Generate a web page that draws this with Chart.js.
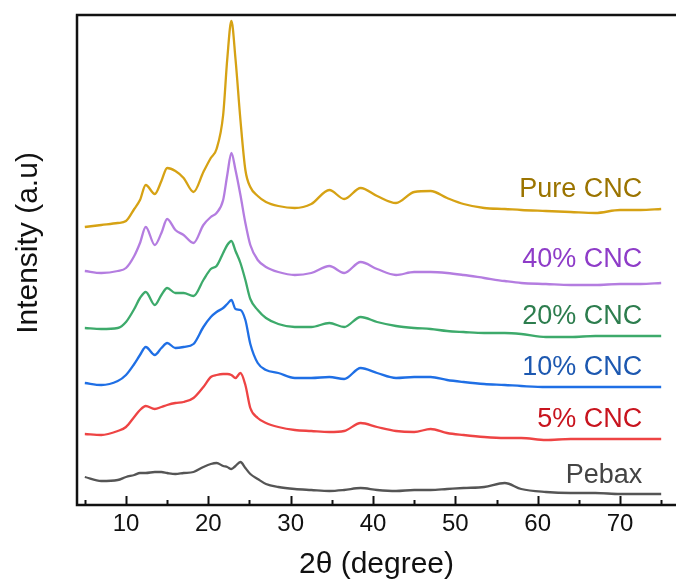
<!DOCTYPE html>
<html>
<head>
<meta charset="utf-8">
<script src="https://cdn.jsdelivr.net/npm/chart.js@4/dist/chart.umd.min.js"></script>
<style>
  html, body { margin: 0; padding: 0; background: #ffffff; overflow: hidden; }
  #wrap { width: 676px; height: 580px; }
</style>
</head>
<body>
<div id="wrap"><canvas id="c" width="676" height="580"></canvas></div>
<script>
// ---- Data (2θ in degrees, intensity in arbitrary stacked units) ----
const angles = [5, 7, 9, 10, 11, 11.7, 12.4, 13.5, 14.3, 15, 16, 17, 18.2, 19.4, 20.3, 21, 21.8, 22.3, 22.8, 23.3, 23.9, 24.5, 25.1, 26, 27, 28.5, 30.5, 32.5, 34.7, 36.5, 38.5, 40.5, 42.8, 45, 47, 49, 51, 53.5, 56, 58, 61, 64, 67, 70, 72.5, 75];

const pureCNC = [278, 280, 282, 284, 296, 305, 320, 311, 324, 337, 334, 327, 313, 333, 347, 356, 390, 446, 484, 446, 385, 335, 318, 309, 303, 299, 297, 301, 315, 306, 317, 309, 302, 313, 314, 307, 301, 297, 296, 295, 294, 293, 292, 295, 295, 296];
const cnc40 = [234, 232, 234, 237, 249, 262, 278, 260, 272, 286, 275, 270, 262, 280, 288, 292, 305, 330, 352, 335, 310, 282, 260, 245, 238, 233, 230, 232, 239, 232, 243, 236, 230, 233, 233, 232, 230, 227, 224, 222, 221, 220, 220, 221, 221, 222];
const cnc20 = [177, 176, 177, 183, 196, 207, 213, 200, 210, 217, 212, 212, 209, 225, 236, 239, 252, 260, 264, 254, 242, 225, 206, 195, 187, 181, 178, 178, 182, 178, 188, 183, 179, 177, 176, 174, 173, 172, 172, 171, 168, 168, 169, 169, 169, 169];
const cnc10 = [122, 120, 124, 130, 141, 150, 158, 150, 157, 162, 157, 158, 161, 178, 188, 193, 197, 201, 205, 196, 195, 185, 161, 142, 135, 132, 127, 127, 128, 126, 137, 132, 127, 128, 128, 125, 123, 121, 120, 119, 118, 118, 118, 118, 118, 118];
const cnc5 = [71, 70, 74, 78, 88, 95, 99, 96, 98, 100, 102, 103, 107, 118, 128, 130, 131, 131, 130, 127, 132, 120, 97, 87, 82, 78, 75, 74, 73, 74, 82, 78, 74, 73, 76, 72, 70, 68, 67, 67, 65, 66, 66, 66, 66, 66];
const pebax = [28, 24, 25, 28, 30, 32, 32, 33, 33, 32, 31, 32, 33, 38, 41, 42, 39, 38, 36, 39, 43, 37, 31, 26, 21, 18, 16, 15, 14, 15, 17, 15, 14, 15, 15, 16, 17, 18, 22, 16, 13, 12, 12, 11, 11, 11];

const seriesNames = ["Pure CNC", "40% CNC", "20% CNC", "10% CNC", "5% CNC", "Pebax"];
const labelLevels = [315, 245, 188, 137, 85, 29];
const xTickValues = [10, 20, 30, 40, 50, 60, 70];
const yTitle = "Intensity (a.u)";

// ---- Styles ----
const lineColors = ["#D6A214", "#B47DE0", "#3DAA6B", "#1F6FE5", "#EE4444", "#555555"];
const textColors = ["#9B7400", "#8E3CC8", "#2D7D4E", "#1D58B0", "#C8141E", "#444444"];
const seriesValues = [pureCNC, cnc40, cnc20, cnc10, cnc5, pebax];

const datasets = seriesValues.map((vals, i) => ({
  label: seriesNames[i],
  data: angles.map((a, j) => ({ x: a, y: vals[j] })),
  borderColor: lineColors[i],
  backgroundColor: lineColors[i],
  borderWidth: 2.3,
  pointRadius: 0,
  cubicInterpolationMode: 'monotone',
  fill: false
}));

const FONT = "'Liberation Sans', Arial, sans-serif";

const framePlugin = {
  id: 'frame',
  afterDatasetsDraw(chart) {
    const { ctx, chartArea, scales } = chart;
    const xs = scales.x, ys = scales.y;
    ctx.save();
    ctx.strokeStyle = '#111111';
    ctx.lineWidth = 2.5;
    ctx.beginPath();
    ctx.moveTo(chartArea.left, chartArea.top);
    ctx.lineTo(chartArea.left, chartArea.bottom);
    ctx.lineTo(chartArea.right + 2, chartArea.bottom);
    ctx.moveTo(chartArea.left - 1.2, chartArea.top);
    ctx.lineTo(chartArea.right + 2, chartArea.top);
    ctx.stroke();
    ctx.lineWidth = 2;
    for (let v = 5; v <= 75; v += 5) {
      const px = Math.round(xs.getPixelForValue(v)) + 0.5;
      const len = (v % 10 === 0) ? 9 : 5;
      ctx.beginPath();
      ctx.moveTo(px, chartArea.bottom);
      ctx.lineTo(px, chartArea.bottom - len);
      ctx.stroke();
    }
    ctx.font = "27px " + FONT;
    ctx.textAlign = 'right';
    ctx.textBaseline = 'middle';
    const lx = xs.getPixelForValue(72.7);
    seriesNames.forEach((n, i) => {
      ctx.fillStyle = textColors[i];
      ctx.fillText(n, lx, ys.getPixelForValue(labelLevels[i]));
    });
    // y-axis title
    ctx.save();
    ctx.translate(29, 243);
    ctx.rotate(-Math.PI / 2);
    ctx.textAlign = 'center';
    ctx.textBaseline = 'middle';
    ctx.fillStyle = '#111111';
    ctx.font = "30px " + FONT;
    ctx.fillText(yTitle, 0, 0);
    ctx.restore();
    ctx.restore();
  }
};

new Chart(document.getElementById('c'), {
  type: 'line',
  data: { datasets },
  options: {
    responsive: false,
    animation: false,
    events: [],
    layout: { padding: { top: 15, right: 0, left: 0, bottom: 0 } },
    plugins: { legend: { display: false }, tooltip: { enabled: false }, title: { display: false } },
    scales: {
      x: {
        type: 'linear',
        min: 4.05,
        max: 76.8,
        grid: { display: false, drawTicks: false },
        border: { display: false },
        afterBuildTicks(scale) {
          scale.ticks = xTickValues.map(v => ({ value: v }));
        },
        afterFit(scale) { scale.height = 75; },
        ticks: {
          autoSkip: false,
          maxRotation: 0,
          padding: 5,
          color: '#111111',
          font: { family: FONT, size: 24 },
          callback: (v) => String(v)
        },
        title: {
          display: true,
          text: '2θ (degree)',
          color: '#111111',
          font: { family: FONT, size: 30, lineHeight: 1 },
          padding: { top: 0, bottom: 0 }
        }
      },
      y: {
        type: 'linear',
        min: 0,
        max: 490,
        grid: { display: false, drawTicks: false },
        border: { display: false },
        ticks: { display: false },
        afterFit(scale) { scale.width = 77; },
        title: { display: false }
      }
    }
  },
  plugins: [framePlugin]
});
</script>
</body>
</html>
